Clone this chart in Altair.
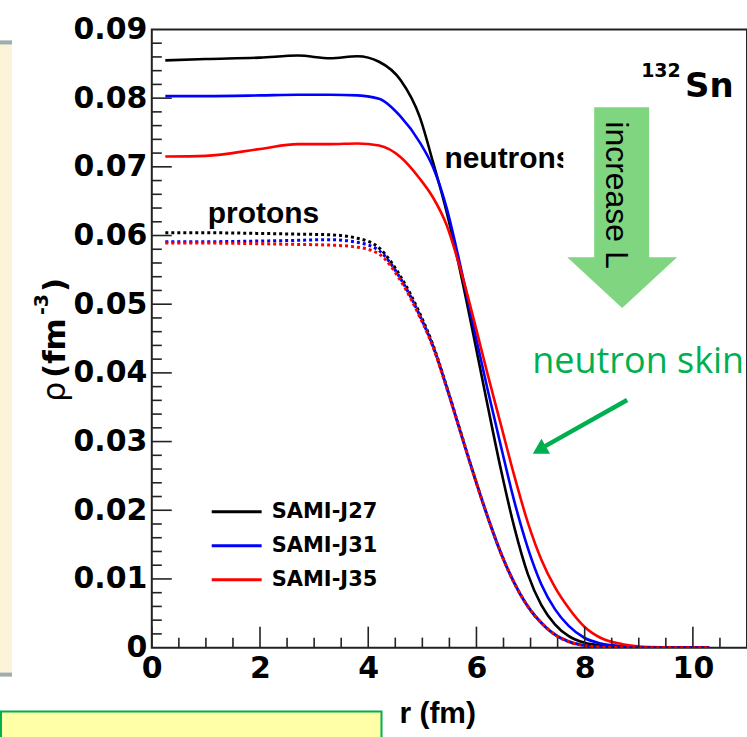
import altair as alt
import pandas as pd

# Radial grid (fm) shared by all density profiles
r_fm = [0.25, 1.0, 2.0, 2.7, 3.3, 3.8, 4.2, 4.6, 4.95, 5.2, 5.45, 5.7, 5.95,
        6.2, 6.45, 6.7, 6.95, 7.2, 7.45, 7.7, 8.0, 8.3, 8.7, 9.2, 10.3]

# Neutron densities (fm^-3)
neutron_j27 = [0.0855, 0.0857, 0.0859, 0.0862, 0.0858, 0.0861, 0.0853, 0.0826, 0.0773, 0.0706,
               0.0634, 0.0548, 0.0453, 0.0355, 0.0260, 0.0175, 0.0107, 0.0062, 0.0034, 0.0017,
               0.0007, 0.0003, 0.0001, 0.0, 0.0]
neutron_j31 = [0.0803, 0.0803, 0.0804, 0.0805, 0.0805, 0.0804, 0.0799, 0.0773, 0.0736, 0.0699,
               0.0640, 0.0557, 0.0466, 0.0378, 0.0294, 0.0213, 0.0145, 0.0092, 0.0056, 0.0032,
               0.0014, 0.0006, 0.0002, 0.0, 0.0]
neutron_j35 = [0.0715, 0.0716, 0.0726, 0.0733, 0.0733, 0.0734, 0.0731, 0.0714, 0.0683, 0.0655,
               0.0615, 0.0552, 0.0478, 0.0400, 0.0325, 0.0250, 0.0182, 0.0128, 0.0088, 0.0058,
               0.0030, 0.0014, 0.0005, 0.0001, 0.0]

# Proton densities (fm^-3)
proton_j27 = [0.0604, 0.0604, 0.0603, 0.0602, 0.0601, 0.0596, 0.0582, 0.0540, 0.0487, 0.0440,
              0.0380, 0.0316, 0.0252, 0.0192, 0.0138, 0.0094, 0.0060, 0.0036, 0.0019, 0.0009,
              0.0003, 0.0001, 0.0, 0.0, 0.0]
proton_j31 = [0.0591, 0.0591, 0.0592, 0.0593, 0.0594, 0.0590, 0.0578, 0.0537, 0.0484, 0.0438,
              0.0379, 0.0315, 0.0252, 0.0192, 0.0138, 0.0094, 0.0060, 0.0036, 0.0019, 0.0009,
              0.0003, 0.0001, 0.0, 0.0, 0.0]
proton_j35 = [0.0589, 0.0589, 0.0588, 0.0587, 0.0586, 0.0583, 0.0573, 0.0534, 0.0482, 0.0437,
              0.0378, 0.0315, 0.0252, 0.0192, 0.0138, 0.0094, 0.0060, 0.0036, 0.0019, 0.0009,
              0.0003, 0.0001, 0.0, 0.0, 0.0]

models = ["SAMI-J27", "SAMI-J31", "SAMI-J35"]
model_colors = ["#000000", "#0000FF", "#FF0000"]

x_tick_values = [0, 2, 4, 6, 8, 10]
y_tick_values = [0, 0.01, 0.02, 0.03, 0.04, 0.05, 0.06, 0.07, 0.08, 0.09]

# Plot-area geometry (pixels)
W, H = 596, 619
X0, Y0 = 152, 29          # plot origin inside the page
BOTTOM = 89

ROOT_FONT = "DejaVu Sans"
ARIAL = "Liberation Sans"

xscale = alt.Scale(domain=[0, 11], nice=False, zero=False)
yscale = alt.Scale(domain=[0, 0.09], nice=False, zero=False)

xaxis = alt.Axis(values=x_tick_values, title=None, ticks=False, domain=False, grid=False,
                 labelFont=ROOT_FONT, labelFontWeight="bold", labelFontSize=30,
                 labelColor="black", labelPadding=6, labelFlush=False,
                 labelOverlap=False, labelBound=False)
yaxis = alt.Axis(values=y_tick_values, title=None, ticks=False, domain=False, grid=False,
                 labelFont=ROOT_FONT, labelFontWeight="bold", labelFontSize=30,
                 labelColor="black", labelPadding=5, labelFlush=False,
                 labelOverlap=False, labelBound=False,
                 labelExpr="datum.value == 0 ? '0' : format(datum.value, '.2f')")

X = alt.X("r:Q", scale=xscale, axis=xaxis)
Y = alt.Y("rho:Q", scale=yscale, axis=yaxis)

blank = alt.Data(values=[{}])


def px(x):
    return alt.value(x - X0)


def py(y):
    return alt.value(y - Y0)


def text(txt, x, y, size, font=ROOT_FONT, weight="bold", color="black",
         align="left", baseline="alphabetic", angle=None):
    kw = dict(text=txt, font=font, fontSize=size, fontWeight=weight, color=color,
              align=align, baseline=baseline)
    if angle is not None:
        kw["angle"] = angle
    return alt.Chart(blank).mark_text(**kw).encode(x=px(x), y=py(y))


def box(x1, x2, y1, y2, fill, stroke=None, sw=0):
    kw = dict(fill=fill, strokeWidth=sw)
    if stroke:
        kw["stroke"] = stroke
    return alt.Chart(blank).mark_rect(**kw).encode(x=px(x1), x2=px(x2), y=py(y1), y2=py(y2))


def curve(values, color, dashed):
    df = pd.DataFrame({"r": r_fm, "rho": values})
    kw = dict(color=color, strokeWidth=2.6, interpolate="monotone", clip=True)
    if dashed:
        kw["strokeDash"] = [3, 3]
        kw["strokeWidth"] = 3
    return alt.Chart(df).mark_line(**kw).encode(x=X, y=Y)


layers = []

# Panels around the figure
layers.append(box(0, 12, 40, 677, "#FCF4DA"))
layers.append(box(0, 12, 40, 44, "#9DAEAE"))
layers.append(box(0, 12, 673, 677, "#9DAEAE"))
layers.append(box(1, 382, 712, 750, "#FFFFA8", "#00B050", 2))

# Density profiles
for vals, col in zip([neutron_j27, neutron_j31, neutron_j35], model_colors):
    layers.append(curve(vals, col, False))
for vals, col in zip([proton_j27, proton_j31, proton_j35], model_colors):
    layers.append(curve(vals, col, True))

# Inward ticks
x_minor = [v / 2 for v in range(1, 22) if v % 4 != 0]
y_minor = [round(v * 0.002, 3) for v in range(1, 45) if v % 5 != 0]
y_major = [0.01, 0.02, 0.03, 0.04, 0.05, 0.06, 0.07, 0.08]


def xticks(vals, length):
    return alt.Chart(pd.DataFrame({"r": vals})).mark_rule(color="#222", strokeWidth=1.6).encode(
        x=X, y=alt.value(H), y2=alt.value(H - length))


def yticks(vals, length):
    return alt.Chart(pd.DataFrame({"rho": vals})).mark_rule(color="#222", strokeWidth=1.6).encode(
        y=Y, x=alt.value(0), x2=alt.value(length))


layers += [xticks(x_tick_values, 21), xticks(x_minor, 10),
           yticks(y_major, 20), yticks(y_minor, 10)]

# Curve labels
layers.append(text("protons", 208, 223, 30, font=ARIAL))
layers.append(text("neutrons", 445, 168, 30, font=ARIAL))

# White backdrop and the "increase L" arrow
layers.append(box(564, 690, 88, 312, "#FFFFFF"))
arrow_path = "M-0.28,-1.01 L0.27,-1.01 L0.27,0.49 L0.55,0.49 L0,1.0 L-0.55,0.49 L-0.28,0.49 Z"
layers.append(alt.Chart(blank).mark_point(shape=arrow_path, size=40000, filled=True,
                                          fill="#80D680", strokeWidth=0, opacity=1)
              .encode(x=px(623), y=py(208)))
layers.append(text("increase L", 607, 121, 32, font=ARIAL, weight="normal", angle=90))

# Nucleus label
layers.append(text("132", 642, 77, 19))
layers.append(text("Sn", 686, 97, 34))

# Neutron-skin annotation
layers.append(text("neutron skin", 533, 373, 36, font="Open Sans", weight="normal", color="#00B050"))
layers.append(alt.Chart(blank).mark_rule(color="#00B050", strokeWidth=4.5)
              .encode(x=px(628), y=py(400), x2=px(541), y2=py(449)))
layers.append(alt.Chart(blank).mark_point(shape="triangle-up", angle=240, size=300, filled=True,
                                          fill="#00B050", strokeWidth=0, opacity=1)
              .encode(x=px(540), y=py(450)))

# Legend
legend_y = [512, 546, 580]
for name, col, ly in zip(models, model_colors, legend_y):
    layers.append(alt.Chart(blank).mark_rule(color=col, strokeWidth=3)
                  .encode(x=px(212), x2=px(262), y=py(ly)))
    layers.append(text(name, 272, ly, 21, baseline="middle"))

# Axis titles
layers.append(text("r (fm)", 400, 723, 30, font=ARIAL))
layers.append(text("\u03c1", 65, 402, 32, weight="normal", angle=270))
layers.append(text("(fm", 65, 378, 31, angle=270))
layers.append(text("-3", 48, 315, 19, angle=270))
layers.append(text(")", 65, 292, 31, angle=270))

chart = alt.layer(*layers).properties(
    width=W, height=H,
    padding={"left": X0, "top": Y0, "right": 0, "bottom": BOTTOM},
    autosize=alt.AutoSizeParams(type="none"),
    background="white",
).configure_view(stroke="#222", strokeWidth=2, fill="white")

chart.save("out.html", embed_options={"renderer": "svg", "actions": False})
